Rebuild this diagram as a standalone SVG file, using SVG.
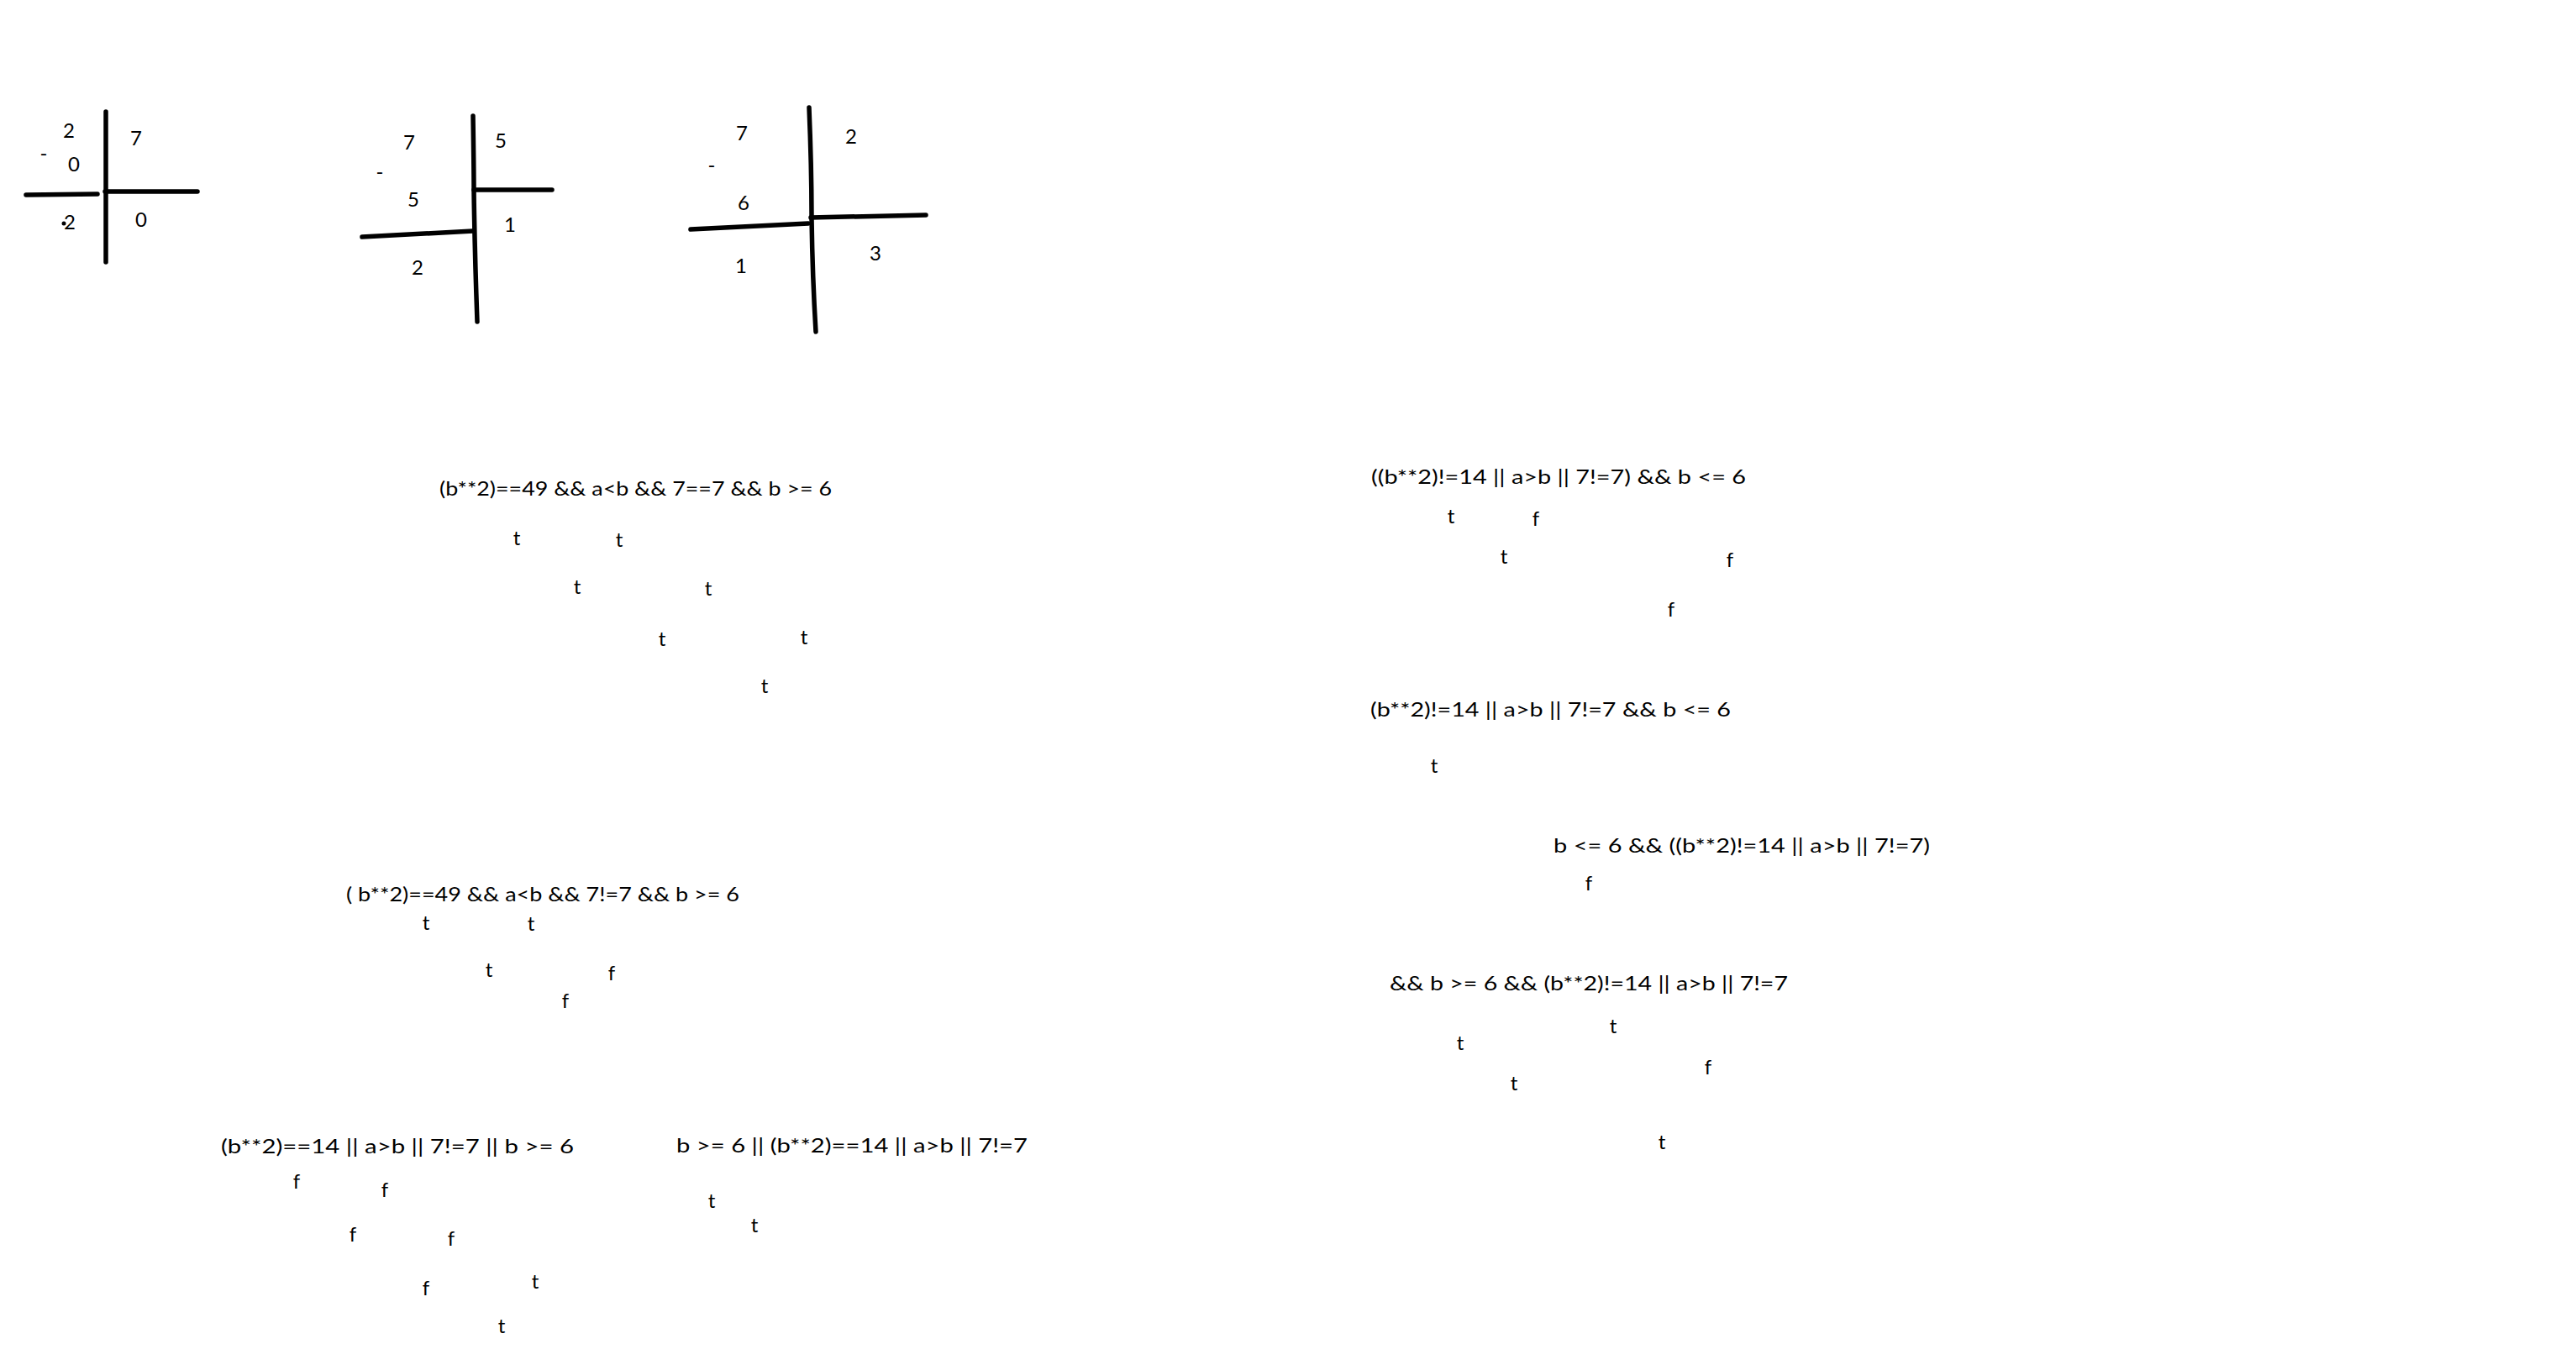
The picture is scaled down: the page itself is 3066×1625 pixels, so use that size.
<svg xmlns="http://www.w3.org/2000/svg" width="3066" height="1625" viewBox="0 0 3066 1625">
<style>
.tx{font-family:Lato,"Open Sans","Liberation Sans",sans-serif;font-size:24px;fill:#000}
.c{text-anchor:middle}
.ln{fill:none;stroke:#000;stroke-width:5.5;stroke-linecap:round;stroke-linejoin:round}
</style>
<rect width="3066" height="1625" fill="#fff"/>
<g id="cross1">
<path class="ln" d="M126 133 L126 312"/>
<path class="ln" d="M31 232 L116 231"/>
<path class="ln" d="M125 228 L235 228"/>
<text class="tx c" x="82" y="164">2</text>
<text class="tx c" x="162" y="173">7</text>
<text class="tx c" x="52" y="191" font-size="16">-</text>
<text class="tx c" x="88" y="204">0</text>
<circle cx="76" cy="266" r="2.5" fill="#000"/>
<text class="tx c" x="83" y="273">2</text>
<text class="tx c" x="168" y="270">0</text>
</g>
<g id="cross2">
<path class="ln" d="M563 138 Q564 200 564 227 Q565 300 568 383"/>
<path class="ln" d="M564 226 L657 226"/>
<path class="ln" d="M431 282 L563 275"/>
<text class="tx c" x="487" y="178">7</text>
<text class="tx c" x="596" y="176">5</text>
<text class="tx c" x="452" y="213" font-size="16">-</text>
<text class="tx c" x="492" y="246">5</text>
<text class="tx c" x="607" y="276">1</text>
<text class="tx c" x="497" y="327">2</text>
</g>
<g id="cross3">
<path class="ln" d="M963 128 Q966 200 966 260 Q967 330 971 395"/>
<path class="ln" d="M965 259 L1102 256"/>
<path class="ln" d="M822 273 L962 266"/>
<text class="tx c" x="883" y="167">7</text>
<text class="tx c" x="1013" y="171">2</text>
<text class="tx c" x="847" y="205" font-size="16">-</text>
<text class="tx c" x="885" y="250">6</text>
<text class="tx c" x="882" y="325">1</text>
<text class="tx c" x="1042" y="310">3</text>
</g>
<g id="expr1">
<text class="tx" x="523" y="590" textLength="467" lengthAdjust="spacingAndGlyphs">(b**2)==49 &amp;&amp; a&lt;b &amp;&amp; 7==7 &amp;&amp; b &gt;= 6</text>
<text class="tx c" x="615" y="649">t</text>
<text class="tx c" x="737" y="651">t</text>
<text class="tx c" x="687" y="707">t</text>
<text class="tx c" x="843" y="709">t</text>
<text class="tx c" x="788" y="769">t</text>
<text class="tx c" x="957" y="767">t</text>
<text class="tx c" x="910" y="825">t</text>
</g>
<g id="expr2">
<text class="tx" x="1632" y="576" textLength="446" lengthAdjust="spacingAndGlyphs">((b**2)!=14 || a&gt;b || 7!=7) &amp;&amp; b &lt;= 6</text>
<text class="tx c" x="1727" y="623">t</text>
<text class="tx c" x="1828" y="626">f</text>
<text class="tx c" x="1790" y="671">t</text>
<text class="tx c" x="2059" y="675">f</text>
<text class="tx c" x="1989" y="734">f</text>
</g>
<g id="expr3">
<text class="tx" x="1631" y="853" textLength="429" lengthAdjust="spacingAndGlyphs">(b**2)!=14 || a&gt;b || 7!=7 &amp;&amp; b &lt;= 6</text>
<text class="tx c" x="1707" y="920">t</text>
</g>
<g id="expr4">
<text class="tx" x="1849" y="1015" textLength="448" lengthAdjust="spacingAndGlyphs">b &lt;= 6 &amp;&amp; ((b**2)!=14 || a&gt;b || 7!=7)</text>
<text class="tx c" x="1891" y="1060">f</text>
</g>
<g id="expr5">
<text class="tx" x="412" y="1073" textLength="468" lengthAdjust="spacingAndGlyphs">( b**2)==49 &amp;&amp; a&lt;b &amp;&amp; 7!=7 &amp;&amp; b &gt;= 6</text>
<text class="tx c" x="507" y="1107">t</text>
<text class="tx c" x="632" y="1108">t</text>
<text class="tx c" x="582" y="1163">t</text>
<text class="tx c" x="728" y="1167">f</text>
<text class="tx c" x="673" y="1200">f</text>
</g>
<g id="expr6">
<text class="tx" x="263" y="1373" textLength="420" lengthAdjust="spacingAndGlyphs">(b**2)==14 || a&gt;b || 7!=7 || b &gt;= 6</text>
<text class="tx c" x="353" y="1415">f</text>
<text class="tx c" x="458" y="1425">f</text>
<text class="tx c" x="420" y="1478">f</text>
<text class="tx c" x="537" y="1483">f</text>
<text class="tx c" x="507" y="1542">f</text>
<text class="tx c" x="637" y="1534">t</text>
<text class="tx c" x="597" y="1587">t</text>
</g>
<g id="expr7">
<text class="tx" x="805" y="1372" textLength="418" lengthAdjust="spacingAndGlyphs">b &gt;= 6 || (b**2)==14 || a&gt;b || 7!=7</text>
<text class="tx c" x="847" y="1438">t</text>
<text class="tx c" x="898" y="1467">t</text>
</g>
<g id="expr8">
<text class="tx" x="1654" y="1179" textLength="474" lengthAdjust="spacingAndGlyphs">&amp;&amp; b &gt;= 6 &amp;&amp; (b**2)!=14 || a&gt;b || 7!=7</text>
<text class="tx c" x="1920" y="1230">t</text>
<text class="tx c" x="1738" y="1250">t</text>
<text class="tx c" x="2033" y="1279">f</text>
<text class="tx c" x="1802" y="1298">t</text>
<text class="tx c" x="1978" y="1368">t</text>
</g>
</svg>
